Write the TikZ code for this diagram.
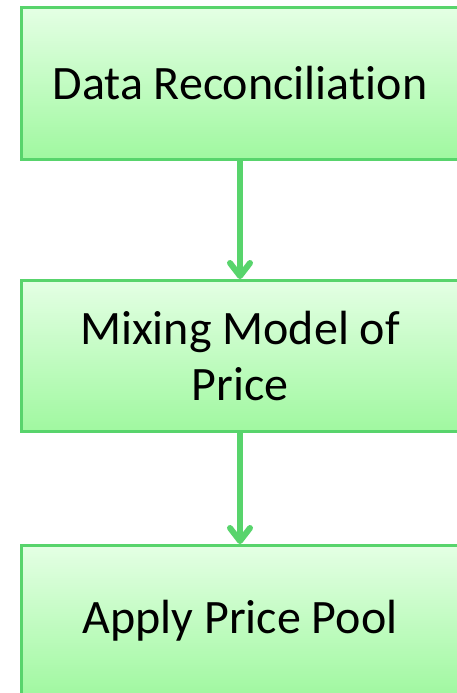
\documentclass[tikz,border=0pt]{standalone}
\usepackage{fontspec}
\setmainfont[Ligatures=NoCommon]{Carlito}
\usetikzlibrary{arrows.meta}
\definecolor{edge}{RGB}{88,212,108}
\definecolor{filltop}{RGB}{228,255,228}
\definecolor{fillbot}{RGB}{160,248,160}
\tikzset{
  stepbox/.style={draw=edge, line width=3pt, rectangle, top color=filltop, bottom color=fillbot,
    minimum width=438pt, minimum height=151pt, inner sep=0pt, align=center,
    font=\fontsize{48}{56}\selectfont},
  flow/.style={draw=edge, line width=6pt,
    -{Straight Barb[length=13pt, width=20pt, line cap=round, line join=round]}}
}
\begin{document}
\begin{tikzpicture}[x=1pt, y=-1pt]
  \useasboundingbox (0,0) rectangle (456,693);
  % \kern0pt keeps "t" and "i" as separate glyphs
  \node[stepbox] (recon) at (240,83.5) {Data Reconcilia\kern0pt tion};
  \node[stepbox] (mix) at (240,356) {Mixing Model of\\Price};
  \node[stepbox] (pool) at (240,621) {Apply Price Pool};
  \draw[flow] (recon.south) -- (mix.north);
  \draw[flow] (mix.south) -- (pool.north);
\end{tikzpicture}
\end{document}
